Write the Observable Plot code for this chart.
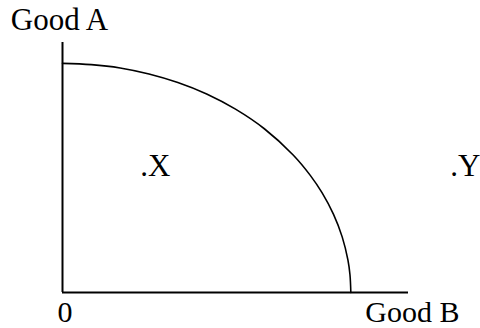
<!DOCTYPE html>
<html>
<head>
<meta charset="utf-8">
<script src="https://cdn.jsdelivr.net/npm/d3@7"></script>
<script src="https://cdn.jsdelivr.net/npm/@observablehq/plot@0.6"></script>
<style>
  html, body { margin: 0; padding: 0; background: #fff; }
  svg { display: block; }
</style>
</head>
<body>
<div id="chart"></div>
<script>
// Production possibility frontier (Good B on x, Good A on y)
const ppfB = [0, 1, 2, 3, 4, 5, 6, 7, 8, 8.6, 9, 9.4, 9.7, 9.9, 9.97, 10];
const ppfA = [11, 10.94, 10.78, 10.49, 10.08, 9.53, 8.8, 7.86, 6.6, 5.61, 4.79, 3.75, 2.67, 1.55, 0.85, 0];

const pointNames = [".X", ".Y"];
const pointB = [2.7, 13.45];
const pointA = [5.6, 5.6];

const axisMax = 12;
const yLabel = "Good A";
const xLabel = "Good B";
const originLabel = "0";

const curve = ppfB.map((b, i) => ({b, a: ppfA[i]}));
const points = pointNames.map((n, i) => ({name: n, b: pointB[i], a: pointA[i]}));

const font = "'Liberation Serif', 'Times New Roman', serif";

const chart = Plot.plot({
  width: 480,
  height: 328,
  marginLeft: 62,
  marginRight: 72,
  marginTop: 42,
  marginBottom: 36,
  style: {fontFamily: font, background: "#fff", overflow: "visible"},
  x: {domain: [0, axisMax], axis: null},
  y: {domain: [0, axisMax], axis: null},
  marks: [
    Plot.ruleX([0], {y1: 0, y2: axisMax, stroke: "#000", strokeWidth: 2}),
    Plot.ruleY([0], {x1: 0, x2: axisMax, stroke: "#000", strokeWidth: 2}),
    Plot.line(curve, {x: "b", y: "a", curve: "catmull-rom", stroke: "#000", strokeWidth: 1.6}),
    Plot.text(points, {x: "b", y: "a", text: "name", textAnchor: "start", lineAnchor: "bottom",
      fontSize: 31, fill: "#000", clip: false}),
    Plot.text([yLabel], {x: 0, y: axisMax, text: d => d, textAnchor: "middle", lineAnchor: "bottom",
      dx: -3, dy: -13, fontSize: 31, fill: "#000"}),
    Plot.text([xLabel], {x: axisMax, y: 0, text: d => d, textAnchor: "end", lineAnchor: "bottom",
      dx: 51, dy: 29, fontSize: 30, fill: "#000"}),
    Plot.text([originLabel], {x: 0, y: 0, text: d => d, textAnchor: "start", lineAnchor: "bottom",
      dx: -5, dy: 29, fontSize: 30, fill: "#000"})
  ]
});
document.getElementById("chart").appendChild(chart);
</script>
</body>
</html>
